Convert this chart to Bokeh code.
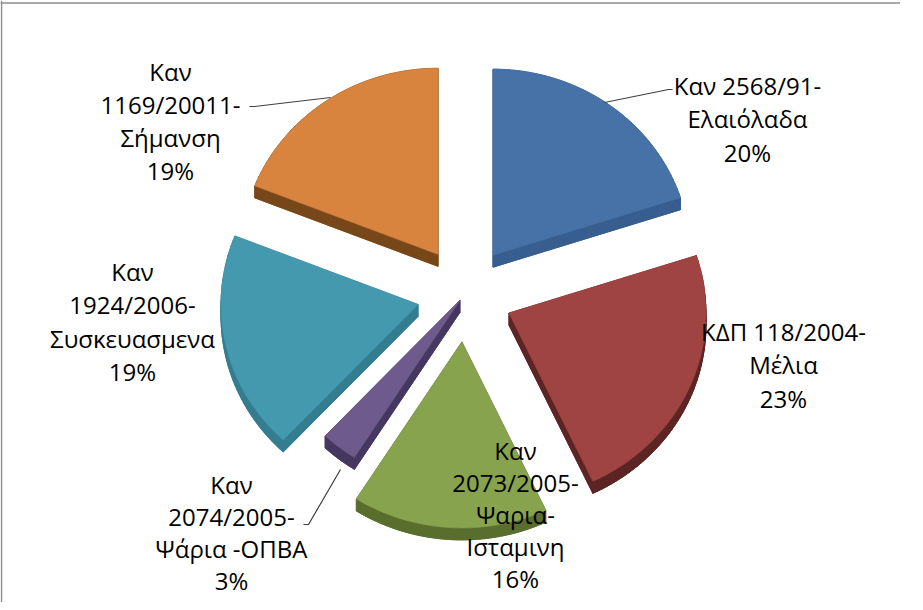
import numpy as np
from bokeh.plotting import figure
from bokeh.models import Range1d, Span
from bokeh.core.properties import value
from bokeh.embed import file_html
from bokeh.resources import INLINE

# ---- data ----
names = ["Καν 2568/91-\nΕλαιόλαδα",
         "ΚΔΠ 118/2004-\nΜέλια",
         "Καν\n2073/2005-\nΨαρια-\nΙσταμινη",
         "Καν\n2074/2005-\nΨάρια -ΟΠΒΑ",
         "Καν\n1924/2006-\nΣυσκευασμενα",
         "Καν\n1169/20011-\nΣήμανση"]
shares = [20, 23, 16, 3, 19, 19]

# ---- styles / layout ----
top_colors = ["#4672A7", "#A04443", "#87A34D", "#6F5A8D", "#4599AF", "#D8843F"]
side_colors = ["#375E8E", "#5C2423", "#596E2D", "#463760", "#347D90", "#784719"]
explode = [48, 48, 48, 8, 48, 48]
CX, CY = 472.4, 301.5       # pie centre (page pixels)
RX, RY = 197.0, 186.0       # radii
DEPTH = 12.0
FONT = "Open Sans"
FS = 24
LINE_H = 33.5
# (x centre, y centre, line spacing) of each label block
label_pos = [(755, 126, 33.5), (791, 372, 33.5), (523, 522, 32.0),
             (239, 540, 32.0), (140, 329, 33.5), (178, 128, 33.0)]
leaders = [
    ([612, 676, 680], [110, 97, 97]),
    None,
    None,
    ([348, 316, 311], [477, 532, 532]),
    None,
    ([338, 262, 257], [105, 114, 114]),
]

W, H = 900, 602
p = figure(width=W, height=H, output_backend="svg", toolbar_location=None,
           x_range=Range1d(8, 8 + W), y_range=Range1d(8 + H, 8),
           min_border=0, background_fill_color="white")
p.axis.visible = False
p.grid.visible = False
p.outline_line_color = None

# frame (chart area border, cropped at right/bottom)
p.add_layout(Span(location=10.5, dimension="width", line_color="#8C8C8C", line_width=1.5))
p.add_layout(Span(location=9.0, dimension="height", line_color="#8C8C8C", line_width=1.5))

vals = np.array(shares, dtype=float)
ends = np.cumsum(vals) / vals.sum() * 2 * np.pi
starts = np.concatenate([[0.0], ends[:-1]])

side_xs, side_ys, side_c = [], [], []
top_xs, top_ys = [], []
for i, (a0, a1) in enumerate(zip(starts, ends)):
    am = 0.5 * (a0 + a1)
    ox = CX + explode[i] * np.sin(am)
    oy = CY - explode[i] * np.cos(am)
    n = max(3, int(np.degrees(a1 - a0) / 1.5))
    t = np.linspace(a0, a1, n)
    xs = np.concatenate([[ox], ox + RX * np.sin(t)])
    ys = np.concatenate([[oy], oy - RY * np.cos(t)])
    top_xs.append(list(xs))
    top_ys.append(list(ys))
    # extruded sides
    m = len(xs)
    for k in range(m):
        j = (k + 1) % m
        side_xs.append([xs[k], xs[j], xs[j], xs[k]])
        side_ys.append([ys[k], ys[j], ys[j] + DEPTH, ys[k] + DEPTH])
        side_c.append(side_colors[i])
    side_xs.append(list(xs))
    side_ys.append(list(ys + DEPTH))
    side_c.append(side_colors[i])

p.patches(side_xs, side_ys, fill_color=side_c, line_color=side_c, line_width=0.8)
p.patches(top_xs, top_ys, fill_color=top_colors, line_color=top_colors, line_width=0.6)

# leader lines
for ld in leaders:
    if ld is not None:
        p.line(ld[0], ld[1], line_color="#404040", line_width=1.2)

# labels
tx, ty, tt = [], [], []
for i, nm in enumerate(names):
    lines = nm.split("\n") + [f"{shares[i]}%"]
    cx, cy, lh = label_pos[i]
    k = len(lines)
    for j, ln in enumerate(lines):
        tx.append(cx)
        ty.append(cy + (j - (k - 1) / 2) * lh)
        tt.append(ln)
p.text(x=tx, y=ty, text=tt, text_font=value(FONT), text_font_size=f"{FS}px",
       text_align="center", text_baseline="middle", text_color="#000000")

open("out.html", "w").write(file_html(p, INLINE))
